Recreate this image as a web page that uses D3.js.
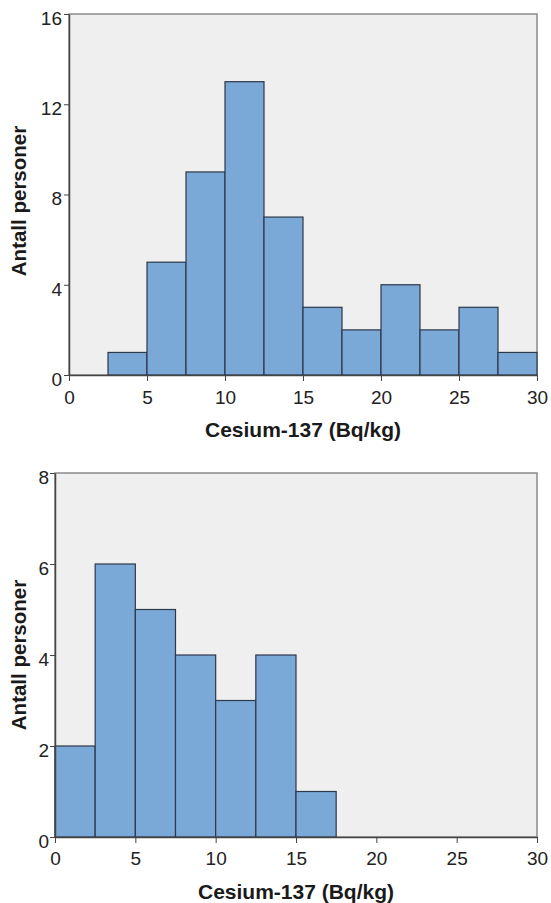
<!DOCTYPE html>
<html>
<head>
<meta charset="utf-8">
<script src="https://cdn.jsdelivr.net/npm/d3@7"></script>
<style>
  body { margin: 0; background: #fff; }
  text { font-family: "Liberation Sans", Arial, sans-serif; }
</style>
</head>
<body>
<svg width="551" height="903"></svg>
<script>
// bin edges (Bq/kg) and counts
const binStarts = [0, 2.5, 5, 7.5, 10, 12.5, 15, 17.5, 20, 22.5, 25, 27.5];
const countsTop = [0, 1, 5, 9, 13, 7, 3, 2, 4, 2, 3, 1];
const countsBottom = [2, 6, 5, 4, 3, 4, 1, 0, 0, 0, 0, 0];
const xTicks = [0, 5, 10, 15, 20, 25, 30];
const yTicksTop = [0, 4, 8, 12, 16];
const yTicksBottom = [0, 2, 4, 6, 8];
const binWidth = 2.5;
const xLabel = "Cesium-137 (Bq/kg)";
const yLabel = "Antall personer";

const svg = d3.select("svg");

function histogram(cfg) {
  const x = d3.scaleLinear().domain([0, 30]).range([cfg.left, cfg.right]);
  const y = d3.scaleLinear().domain([0, cfg.ymax]).range([cfg.bottom, cfg.top]);
  const g = svg.append("g");

  // plot background + frame
  g.append("rect")
    .attr("x", cfg.left).attr("y", cfg.top)
    .attr("width", cfg.right - cfg.left).attr("height", cfg.bottom - cfg.top)
    .attr("fill", "#efefef")
    .attr("stroke", "#8a8a8a").attr("stroke-width", 1.5);

  const bins = binStarts.map((s, i) => ({x0: s, x1: s + binWidth, n: cfg.counts[i]}))
    .filter(d => d.n > 0);

  g.selectAll("rect.bar").data(bins).join("rect")
    .attr("class", "bar")
    .attr("x", d => x(d.x0))
    .attr("y", d => y(d.n))
    .attr("width", d => x(d.x1) - x(d.x0))
    .attr("height", d => y(0) - y(d.n))
    .attr("fill", "#7aa8d7")
    .attr("stroke", "#2d3848").attr("stroke-width", 1.2);

  const xAxis = d3.axisBottom(x).tickValues(xTicks).tickSize(6).tickSizeOuter(0).tickPadding(cfg.xPad);
  const gx = g.append("g").attr("transform", `translate(0,${cfg.bottom})`).call(xAxis);
  gx.select(".domain").attr("stroke", "#444").attr("stroke-width", 1.5);
  gx.selectAll(".tick line").attr("stroke", "#444");
  gx.selectAll("text").attr("font-size", 19).attr("fill", "#222");

  const yAxis = d3.axisLeft(y).tickValues(cfg.yTicks).tickSize(5).tickSizeOuter(0).tickPadding(cfg.yPad);
  const gy = g.append("g").attr("transform", `translate(${cfg.left},0)`).call(yAxis);
  gy.select(".domain").attr("stroke", "#444").attr("stroke-width", 1.5);
  gy.selectAll(".tick line").attr("stroke", "#444");
  gy.selectAll("text").attr("font-size", 19).attr("fill", "#222").attr("dy", "0.55em");

  g.append("text")
    .attr("x", (cfg.left + cfg.right) / 2)
    .attr("y", cfg.bottom + 62)
    .attr("text-anchor", "middle")
    .attr("font-size", 21).attr("font-weight", "bold").attr("fill", "#1a1a1a")
    .text(xLabel);

  g.append("text")
    .attr("transform", `translate(26,${cfg.labelY}) rotate(-90)`)
    .attr("text-anchor", "middle")
    .attr("font-size", 20.5).attr("font-weight", "bold").attr("fill", "#1a1a1a")
    .text(yLabel);
}

histogram({left: 69, right: 537, top: 14, bottom: 375, ymax: 16, yTicks: yTicksTop,
  counts: countsTop, xPad: 10, yPad: 2, labelY: 201});
histogram({left: 55, right: 537, top: 473, bottom: 837, ymax: 8, yTicks: yTicksBottom,
  counts: countsBottom, xPad: 9, yPad: 1, labelY: 655});
</script>
</body>
</html>
